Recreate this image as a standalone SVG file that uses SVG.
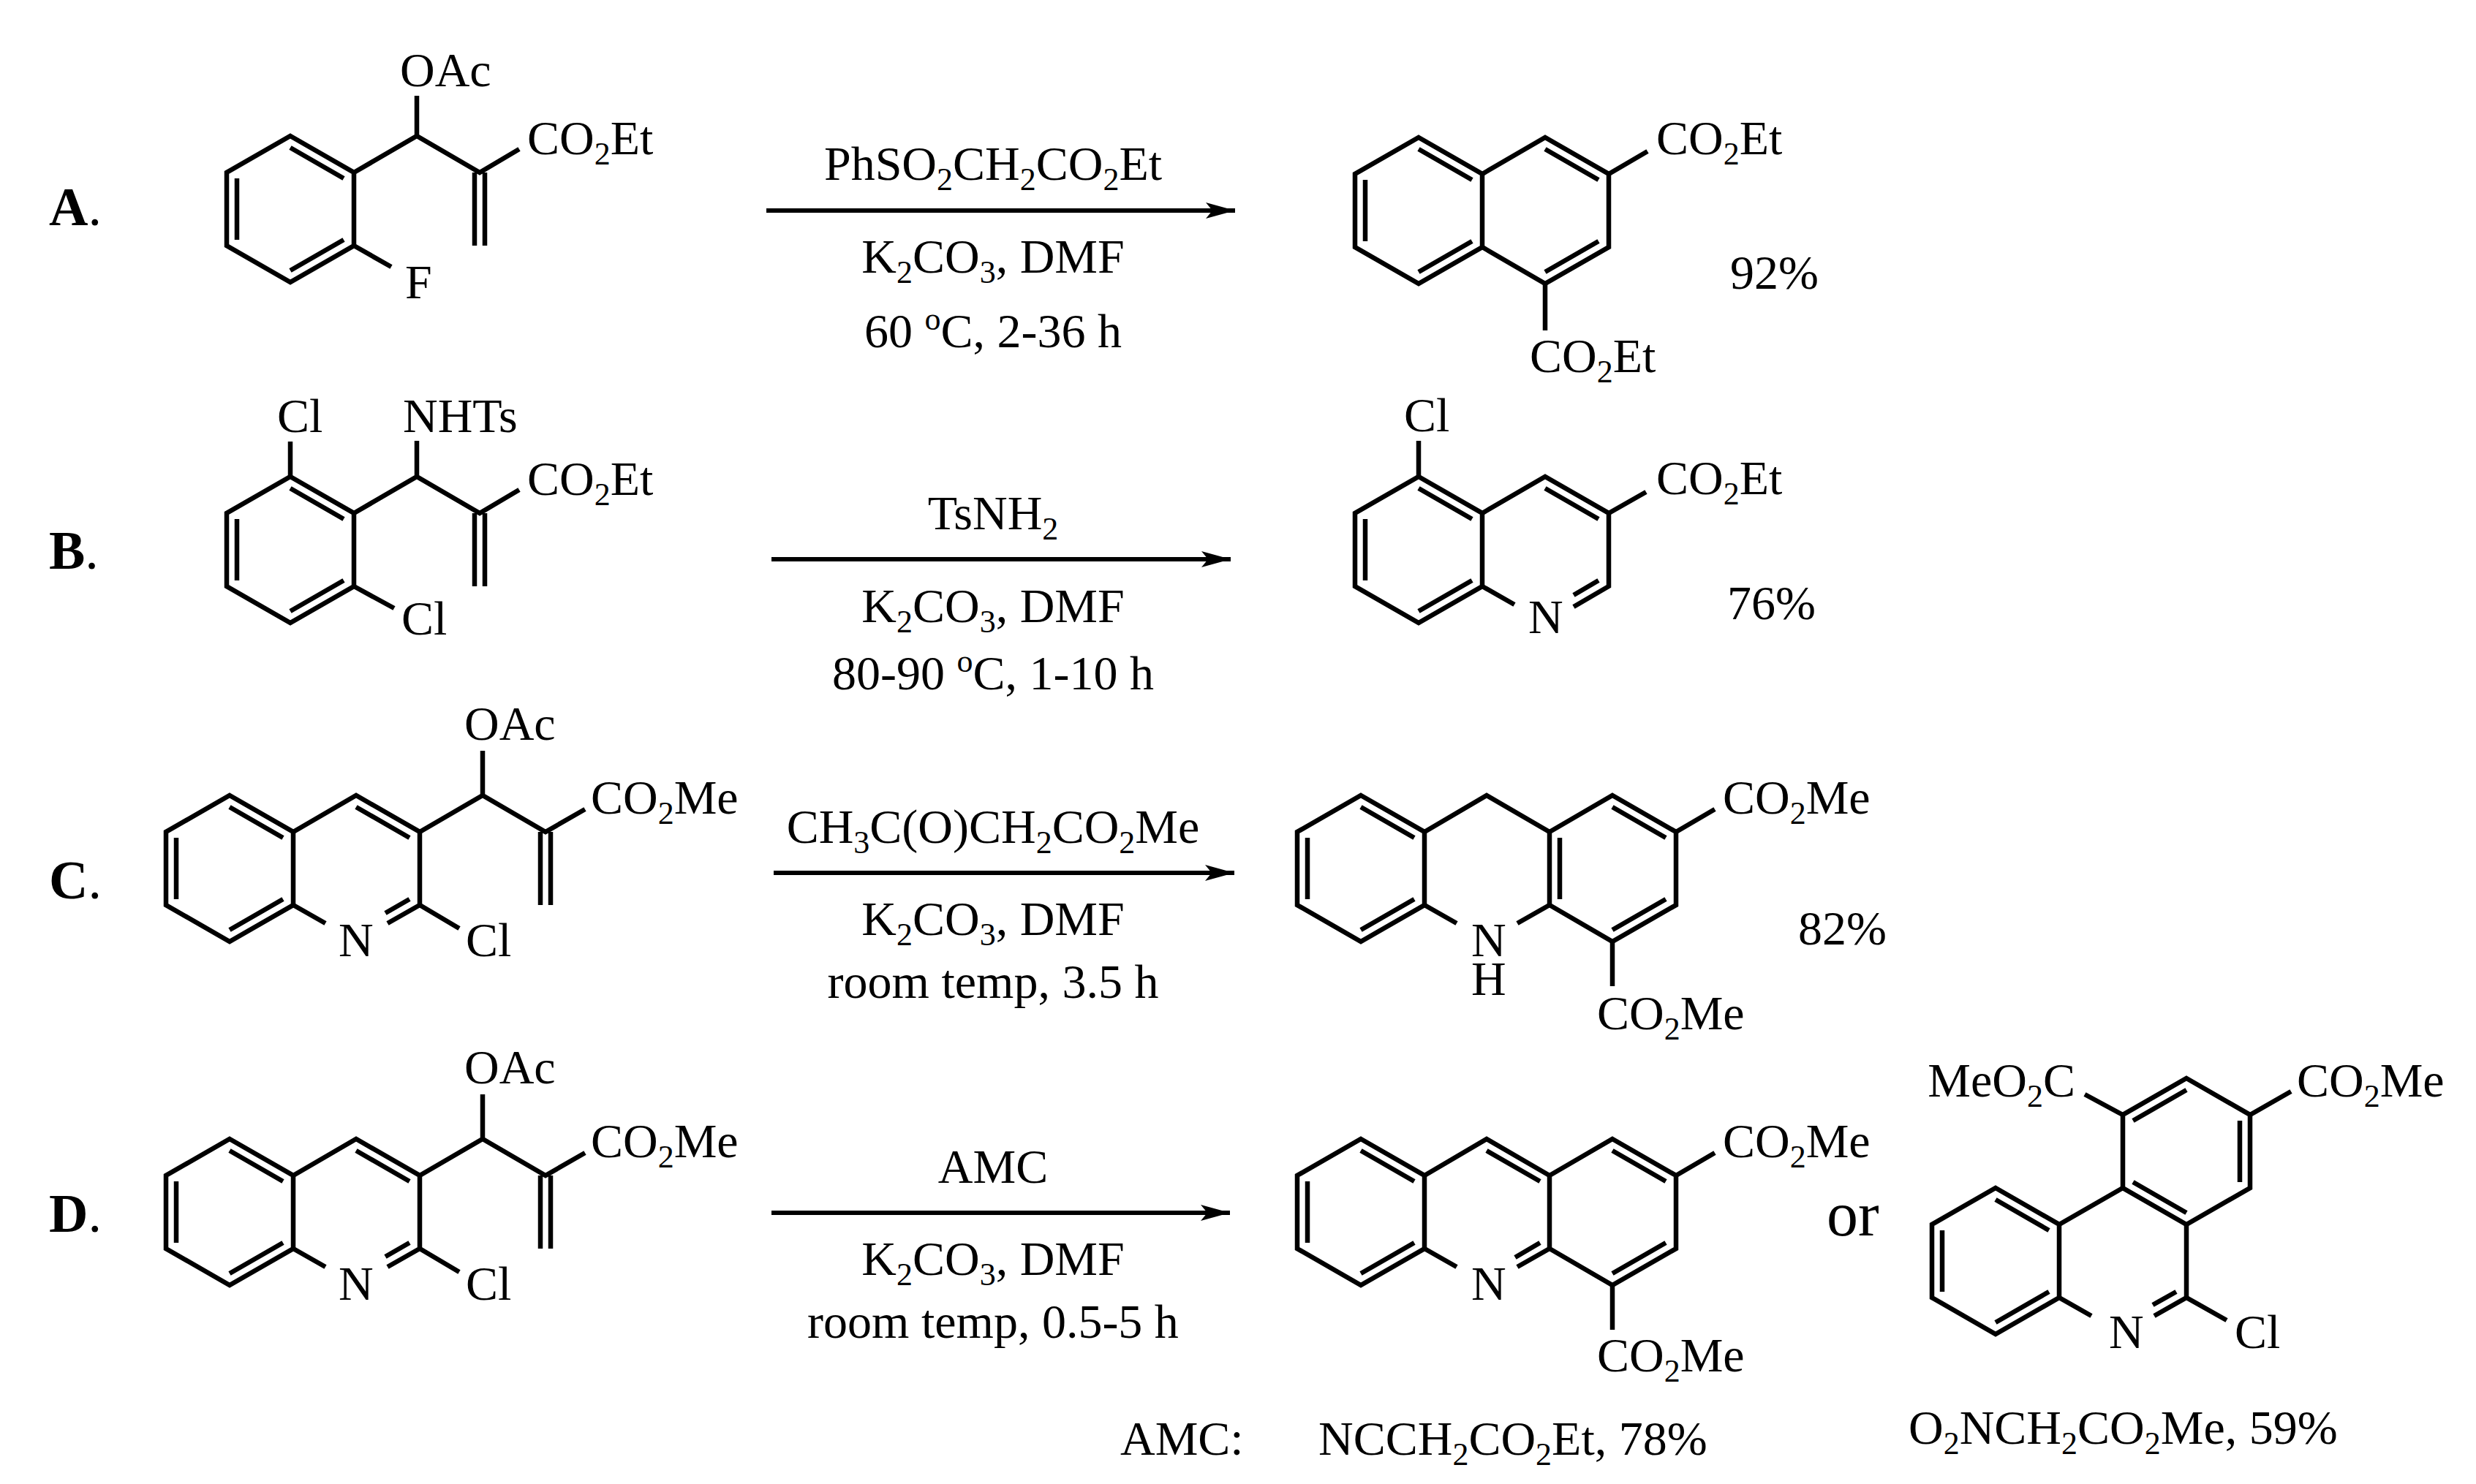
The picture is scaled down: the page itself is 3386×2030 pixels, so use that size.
<svg xmlns="http://www.w3.org/2000/svg" width="3386" height="2030" viewBox="0 0 3386 2030">
<style>
text{font-family:"Liberation Serif","Times New Roman",serif;font-size:66px;fill:#000}
.s{font-size:44px}
.lb{font-weight:bold;font-size:74px}
.or{font-size:86px}
.m{text-anchor:middle}
.e{text-anchor:end}
path,polyline,polygon,line{fill:none;stroke:#000;stroke-width:6.5;stroke-linejoin:miter;stroke-linecap:butt}
.ar{stroke-width:6}
</style>
<defs>
<marker id="ah" markerUnits="userSpaceOnUse" markerWidth="46" markerHeight="26" refX="40" refY="12" orient="auto">
<path d="M0,1 L40,12 L0,23 L9,12 Z" style="fill:#000;stroke:none"/>
</marker>
</defs>
<rect width="3386" height="2030" fill="#fff"/>

<g id="labels">
<text class="lb" x="67" y="308">A<tspan style="font-weight:normal">.</tspan></text>
<text class="lb" x="67" y="778">B<tspan style="font-weight:normal">.</tspan></text>
<text class="lb" x="67" y="1229">C<tspan style="font-weight:normal">.</tspan></text>
<text class="lb" x="67" y="1685">D<tspan style="font-weight:normal">.</tspan></text>
</g>

<g id="reactA">
<polygon points="397,186 484,236 484,336 397,386 310,336 310,236"/>
<path d="M397,202L470,244M324,328L324,244M470,328L397,370"/>
<path d="M484,236L570,186L656,236L710,204M570,186L570,131M649,236L649,336M663,236L663,336M484,336L535,365"/>
<text x="547" y="118">OAc</text>
<text x="721" y="211">CO<tspan class="s" dy="14">2</tspan><tspan dy="-14">Et</tspan></text>
<text x="554" y="408">F</text>
</g>

<g id="reactB">
<polygon points="397,652 484,702 484,802 397,852 310,802 310,702"/>
<path d="M397,668L470,710M324,794L324,710M470,794L397,836"/>
<path d="M484,702L570,652L656,702L710,670M570,652L570,603M649,702L649,802M663,702L663,802M484,802L539,832M397,652L397,604"/>
<text x="379" y="591">Cl</text>
<text x="551" y="591">NHTs</text>
<text x="721" y="677">CO<tspan class="s" dy="14">2</tspan><tspan dy="-14">Et</tspan></text>
<text x="549" y="868">Cl</text>
</g>

<g id="reactC">
<polygon points="314,1088 401,1138 401,1238 314,1288 227,1238 227,1138"/>
<path d="M314,1104L387,1146M241,1230L241,1146M314,1272L387,1230"/>
<path d="M401,1138L487,1088L574,1138L574,1238M401,1238L445,1263M574,1238L530,1263M487,1104L560,1146M560,1230L527,1249"/>
<path d="M574,1238L628,1270M574,1138L660,1088L746,1138L800,1107M660,1088L660,1027M739,1138L739,1238M753,1138L753,1238"/>
<text x="463" y="1308">N</text>
<text x="637" y="1308">Cl</text>
<text x="635" y="1012">OAc</text>
<text x="808" y="1113">CO<tspan class="s" dy="14">2</tspan><tspan dy="-14">Me</tspan></text>
</g>

<g id="reactD">
<polygon points="314,1558 401,1608 401,1708 314,1758 227,1708 227,1608"/>
<path d="M314,1574L387,1616M241,1700L241,1616M314,1742L387,1700"/>
<path d="M401,1608L487,1558L574,1608L574,1708M401,1708L445,1733M574,1708L530,1733M487,1574L560,1616M560,1700L527,1719"/>
<path d="M574,1708L628,1740M574,1608L660,1558L746,1608L800,1577M660,1558L660,1497M739,1608L739,1708M753,1608L753,1708"/>
<text x="463" y="1778">N</text>
<text x="637" y="1778">Cl</text>
<text x="635" y="1482">OAc</text>
<text x="808" y="1583">CO<tspan class="s" dy="14">2</tspan><tspan dy="-14">Me</tspan></text>
</g>

<g id="condA">
<text class="m" x="1358" y="246">PhSO<tspan class="s" dy="14">2</tspan><tspan dy="-14">CH</tspan><tspan class="s" dy="14">2</tspan><tspan dy="-14">CO</tspan><tspan class="s" dy="14">2</tspan><tspan dy="-14">Et</tspan></text>
<text class="m" x="1358" y="373">K<tspan class="s" dy="14">2</tspan><tspan dy="-14">CO</tspan><tspan class="s" dy="14">3</tspan><tspan dy="-14">, DMF</tspan></text>
<text class="m" x="1358" y="475">60 <tspan class="s" dy="-24">o</tspan><tspan dy="24">C, 2-36 h</tspan></text>
</g>
<g id="condB">
<text class="m" x="1358" y="724">TsNH<tspan class="s" dy="14">2</tspan></text>
<text class="m" x="1358" y="851">K<tspan class="s" dy="14">2</tspan><tspan dy="-14">CO</tspan><tspan class="s" dy="14">3</tspan><tspan dy="-14">, DMF</tspan></text>
<text class="m" x="1358" y="943">80-90 <tspan class="s" dy="-24">o</tspan><tspan dy="24">C, 1-10 h</tspan></text>
</g>
<g id="condC">
<text class="m" x="1358" y="1153">CH<tspan class="s" dy="14">3</tspan><tspan dy="-14">C(O)CH</tspan><tspan class="s" dy="14">2</tspan><tspan dy="-14">CO</tspan><tspan class="s" dy="14">2</tspan><tspan dy="-14">Me</tspan></text>
<text class="m" x="1358" y="1279">K<tspan class="s" dy="14">2</tspan><tspan dy="-14">CO</tspan><tspan class="s" dy="14">3</tspan><tspan dy="-14">, DMF</tspan></text>
<text class="m" x="1358" y="1365">room temp, 3.5 h</text>
</g>
<g id="condD">
<text class="m" x="1358" y="1618">AMC</text>
<text class="m" x="1358" y="1744">K<tspan class="s" dy="14">2</tspan><tspan dy="-14">CO</tspan><tspan class="s" dy="14">3</tspan><tspan dy="-14">, DMF</tspan></text>
<text class="m" x="1358" y="1830">room temp, 0.5-5 h</text>
</g>

<g id="connectors">
<line class="ar" x1="1048" y1="288" x2="1689" y2="288" marker-end="url(#ah)"/>
<line class="ar" x1="1055" y1="765" x2="1683" y2="765" marker-end="url(#ah)"/>
<line class="ar" x1="1058" y1="1194" x2="1688" y2="1194" marker-end="url(#ah)"/>
<line class="ar" x1="1055" y1="1659" x2="1682" y2="1659" marker-end="url(#ah)"/>
</g>

<g id="prodA">
<polygon points="1940,188 2027,238 2027,338 1940,388 1853,338 1853,238"/>
<path d="M2027,238L2113,188L2200,238L2200,338L2113,388L2027,338"/>
<path d="M1940,204L2013,246M1867,330L1867,246M1940,372L2013,330M2113,204L2186,246M2186,330L2113,372"/>
<path d="M2200,238L2253,207M2113,388L2113,452"/>
<text x="2265" y="211">CO<tspan class="s" dy="14">2</tspan><tspan dy="-14">Et</tspan></text>
<text x="2092" y="509">CO<tspan class="s" dy="14">2</tspan><tspan dy="-14">Et</tspan></text>
<text x="2366" y="395">92%</text>
</g>

<g id="prodB">
<polygon points="1940,652 2027,702 2027,802 1940,852 1853,802 1853,702"/>
<path d="M2027,702L2113,652L2200,702L2200,802L2152,830M2027,802L2071,827"/>
<path d="M1940,668L2013,710M1867,794L1867,710M1940,836L2013,794M2113,668L2186,710M2186,794L2152,814"/>
<path d="M1940,652L1940,603M2200,702L2251,673"/>
<text x="1920" y="590">Cl</text>
<text x="2090" y="866">N</text>
<text x="2265" y="676">CO<tspan class="s" dy="14">2</tspan><tspan dy="-14">Et</tspan></text>
<text x="2362" y="847">76%</text>
</g>

<g id="prodC">
<polygon points="1861,1088 1948,1138 1948,1238 1861,1288 1774,1238 1774,1138"/>
<path d="M1861,1104L1934,1146M1788,1230L1788,1146M1861,1272L1934,1230"/>
<path d="M1948,1138L2033,1088L2119,1138M1948,1238L1992,1263M2119,1238L2075,1263"/>
<polygon points="2205,1088 2292,1138 2292,1238 2205,1288 2119,1238 2119,1138"/>
<path d="M2133,1146L2133,1230M2205,1104L2278,1146M2278,1230L2205,1272"/>
<path d="M2292,1138L2345,1107M2205,1288L2205,1349"/>
<text x="2012" y="1308">N</text>
<text x="2012" y="1361">H</text>
<text x="2356" y="1113">CO<tspan class="s" dy="14">2</tspan><tspan dy="-14">Me</tspan></text>
<text x="2184" y="1408">CO<tspan class="s" dy="14">2</tspan><tspan dy="-14">Me</tspan></text>
<text x="2459" y="1292">82%</text>
</g>

<g id="prodD1">
<polygon points="1861,1558 1948,1608 1948,1708 1861,1758 1774,1708 1774,1608"/>
<path d="M1861,1574L1934,1616M1788,1700L1788,1616M1861,1742L1934,1700"/>
<path d="M1948,1608L2033,1558L2119,1608M1948,1708L1992,1733M2119,1708L2075,1733M2033,1574L2106,1616M2106,1700L2072,1720"/>
<polygon points="2205,1558 2292,1608 2292,1708 2205,1758 2119,1708 2119,1608"/>
<path d="M2205,1574L2278,1616M2278,1700L2205,1742"/>
<path d="M2292,1608L2345,1577M2205,1758L2205,1819"/>
<text x="2012" y="1778">N</text>
<text x="2356" y="1583">CO<tspan class="s" dy="14">2</tspan><tspan dy="-14">Me</tspan></text>
<text x="2184" y="1876">CO<tspan class="s" dy="14">2</tspan><tspan dy="-14">Me</tspan></text>
<text class="or" x="2498" y="1690">or</text>
<text x="1532" y="1990">AMC:</text>
<text x="1803" y="1990">NCCH<tspan class="s" dy="14">2</tspan><tspan dy="-14">CO</tspan><tspan class="s" dy="14">2</tspan><tspan dy="-14">Et, 78%</tspan></text>
</g>

<g id="prodD2">
<polygon points="2990,1475 3077,1525 3077,1625 2990,1675 2903,1625 2903,1525"/>
<path d="M2990,1491L2917,1533M3063,1533L3063,1617M2917,1617L2990,1659"/>
<polygon points="2729,1625 2816,1675 2816,1775 2729,1825 2642,1775 2642,1675"/>
<path d="M2729,1641L2802,1683M2656,1767L2656,1683M2729,1809L2802,1767"/>
<path d="M2903,1625L2816,1675M2990,1675L2990,1775L2946,1800M2816,1775L2860,1800M2976,1767L2944,1785"/>
<path d="M2990,1775L3045,1806M2903,1525L2851,1497M3077,1525L3133,1493"/>
<text x="2884" y="1844">N</text>
<text x="3056" y="1844">Cl</text>
<text class="e" x="2838" y="1500">MeO<tspan class="s" dy="14">2</tspan><tspan dy="-14">C</tspan></text>
<text x="3141" y="1500">CO<tspan class="s" dy="14">2</tspan><tspan dy="-14">Me</tspan></text>
<text x="2610" y="1975">O<tspan class="s" dy="14">2</tspan><tspan dy="-14">NCH</tspan><tspan class="s" dy="14">2</tspan><tspan dy="-14">CO</tspan><tspan class="s" dy="14">2</tspan><tspan dy="-14">Me, 59%</tspan></text>
</g>
</svg>
